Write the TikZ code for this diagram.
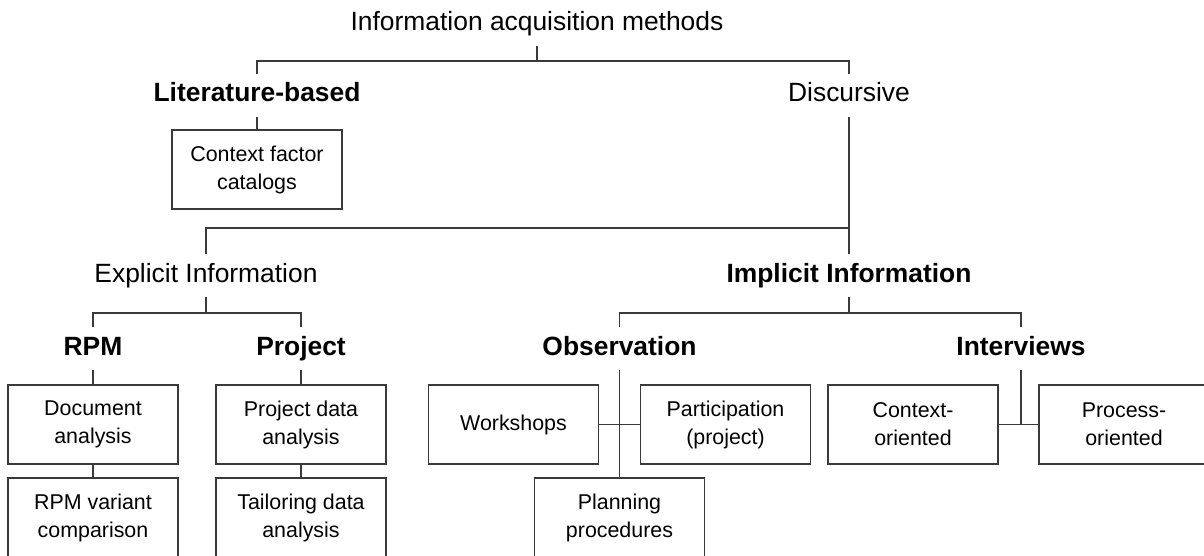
\documentclass[tikz,border=0pt]{standalone}
\usepackage{fontspec}
\setmainfont{Liberation Sans}
\usepackage{tikz}
\usetikzlibrary{positioning}
\definecolor{Line}{HTML}{3A3A3A}

\begin{document}
\begin{tikzpicture}[x=.5pt,y=-.5pt,
    lbl/.style={anchor=base,inner xsep=2pt,inner ysep=4.5pt,text height=9.5pt,text depth=2.8pt,font=\fontsize{13.2pt}{16pt}\selectfont},
    blbl/.style={lbl,font=\fontsize{13.2pt}{16pt}\selectfont\bfseries},
    box/.style={draw=Line,line width=.8pt,minimum width=85pt,minimum height=39.5pt,inner sep=0pt,align=center,font=\fontsize{10.7pt}{14pt}\selectfont},
    conn/.style={draw=Line,line width=.8pt}]
  \useasboundingbox (0,0) rectangle (1204,556);
  \clip (0,0) rectangle (1204,556);
  \coordinate (r1) at (0,61);
  \coordinate (r2) at (0,228);
  \coordinate (r3) at (0,313);
  \node[lbl] (title) at (537,31){Information acquisition methods};
  \node[blbl] (lit) at (257,102){Literature-based};
  \node[lbl] (disc) at (849,102){Discursive};
  \node[lbl] (expl) at (206,282){Explicit Information};
  \node[blbl] (impl) at (849,282){Implicit Information};
  \node[blbl] (rpm) at (93,355){RPM};
  \node[blbl] (proj) at (301,355){Project};
  \node[blbl] (obs) at (619.5,355){Observation};
  \node[blbl] (intv) at (1021,355){Interviews};
  \node[box] (ctx) at (257,169.5){Context factor\\catalogs};
  \node[box] (doc) at (93,424.5){Document\\analysis};
  \node[box] (rpmvar) at (93,517.5){RPM variant\\comparison};
  \node[box] (pda) at (301,424.5){Project data\\analysis};
  \node[box] (tda) at (301,517.5){Tailoring data\\analysis};
  \node[box] (work) at (513.5,424.5){Workshops};
  \node[box] (part) at (725.5,424.5){Participation\\(project)};
  \node[box] (plan) at (619.5,517.5){Planning\\procedures};
  \node[box] (ctxo) at (913,424.5){Context-\\oriented};
  \node[box] (proc) at (1124,424.5){Process-\\oriented};
  \draw[conn] (title.south) -- (title |- r1);
  \draw[conn] (lit.north) |- (r1 -| disc) -- (disc.north);
  \draw[conn] (lit) -- (ctx);
  \draw[conn] (disc.south) -- (impl.north);
  \draw[conn] (expl.north) |- (r2 -| disc);
  \draw[conn] (expl.south) -- (expl |- r3);
  \draw[conn] (rpm.north) |- (r3 -| proj) -- (proj.north);
  \draw[conn] (impl.south) -- (impl |- r3);
  \draw[conn] (obs.north) |- (r3 -| intv) -- (intv.north);
  \draw[conn] (rpm) -- (doc);
  \draw[conn] (doc) -- (rpmvar);
  \draw[conn] (proj) -- (pda);
  \draw[conn] (pda) -- (tda);
  \draw[conn] (obs) -- (plan);
  \draw[conn] (work) -- (part);
  \draw[conn] (intv.south) -- (intv |- ctxo.east);
  \draw[conn] (ctxo) -- (proc);
\end{tikzpicture}
\end{document}
